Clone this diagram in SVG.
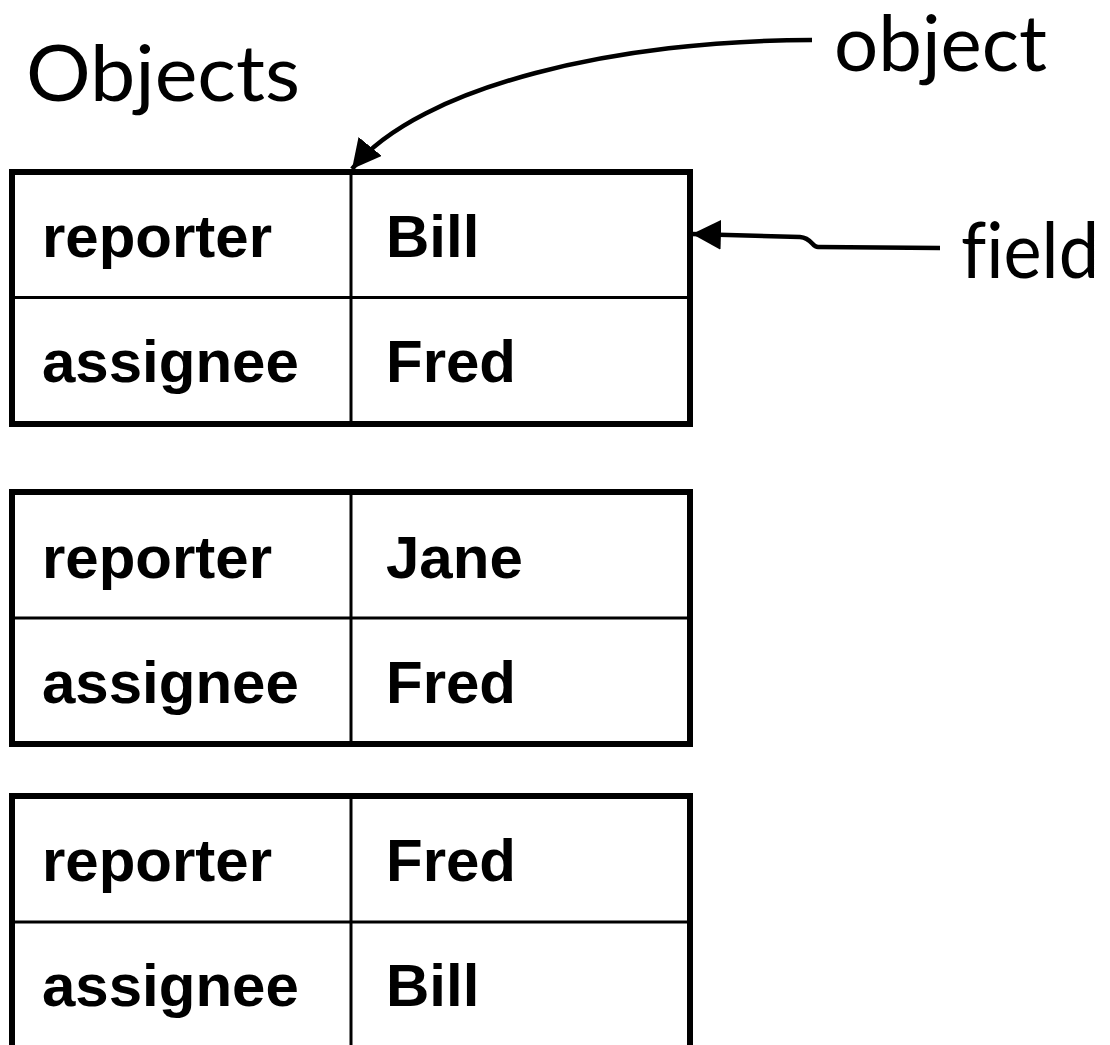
<svg xmlns="http://www.w3.org/2000/svg" width="1110" height="1045" viewBox="0 0 1110 1045">
  <style>
    .frame { fill: #fff; stroke: #000; stroke-width: 6; }
    .grid { stroke: #000; stroke-width: 3; fill: none; }
    .cell { font-family: "Liberation Sans", Arial, sans-serif; font-weight: bold; font-size: 60px; fill: #000; }
    .label { font-family: Lato, "Open Sans", sans-serif; font-size: 78px; fill: #000; font-variant-ligatures: none; }
    .link { stroke: #000; stroke-width: 4.5; fill: none; }
  </style>
  <defs>
    <marker id="arrow" markerUnits="userSpaceOnUse" markerWidth="30" markerHeight="30" viewBox="0 0 28 28" refX="27" refY="14" orient="auto">
      <path d="M0,0 L27,14 L0,28 z" fill="#000"/>
    </marker>
  </defs>

  <rect width="1110" height="1045" fill="#fff"/>

  <text class="label" x="26" y="101" textLength="274" lengthAdjust="spacingAndGlyphs">Objects</text>
  <text class="label" x="834" y="71" textLength="213" lengthAdjust="spacingAndGlyphs">object</text>
  <text class="label" x="961" y="278" textLength="138" lengthAdjust="spacingAndGlyphs">field</text>

  <g id="obj1">
    <rect class="frame" x="12" y="172" width="678" height="252"/>
    <path class="grid" d="M351 172 V424 M12 297.5 H690"/>
    <text class="cell" x="42" y="257">reporter</text>
    <text class="cell" x="386" y="257">Bill</text>
    <text class="cell" x="42" y="382">assignee</text>
    <text class="cell" x="386" y="382">Fred</text>
  </g>

  <g id="obj2">
    <rect class="frame" x="12" y="492" width="678" height="252"/>
    <path class="grid" d="M351 492 V744 M12 618 H690"/>
    <text class="cell" x="42" y="578">reporter</text>
    <text class="cell" x="386" y="578">Jane</text>
    <text class="cell" x="42" y="703">assignee</text>
    <text class="cell" x="386" y="703">Fred</text>
  </g>

  <g id="obj3">
    <rect class="frame" x="12" y="796" width="678" height="252"/>
    <path class="grid" d="M351 796 V1048 M12 922 H690"/>
    <text class="cell" x="42" y="881">reporter</text>
    <text class="cell" x="386" y="881">Fred</text>
    <text class="cell" x="42" y="1006">assignee</text>
    <text class="cell" x="386" y="1006">Bill</text>
  </g>

  <g id="connectors">
    <path class="link" marker-end="url(#arrow)" d="M812 40 C620 40 420 85 352 169"/>
    <path class="link" marker-end="url(#arrow)" d="M940 248 L818 247 C812 247 812 238 800 237 L692 234"/>
  </g>
</svg>
